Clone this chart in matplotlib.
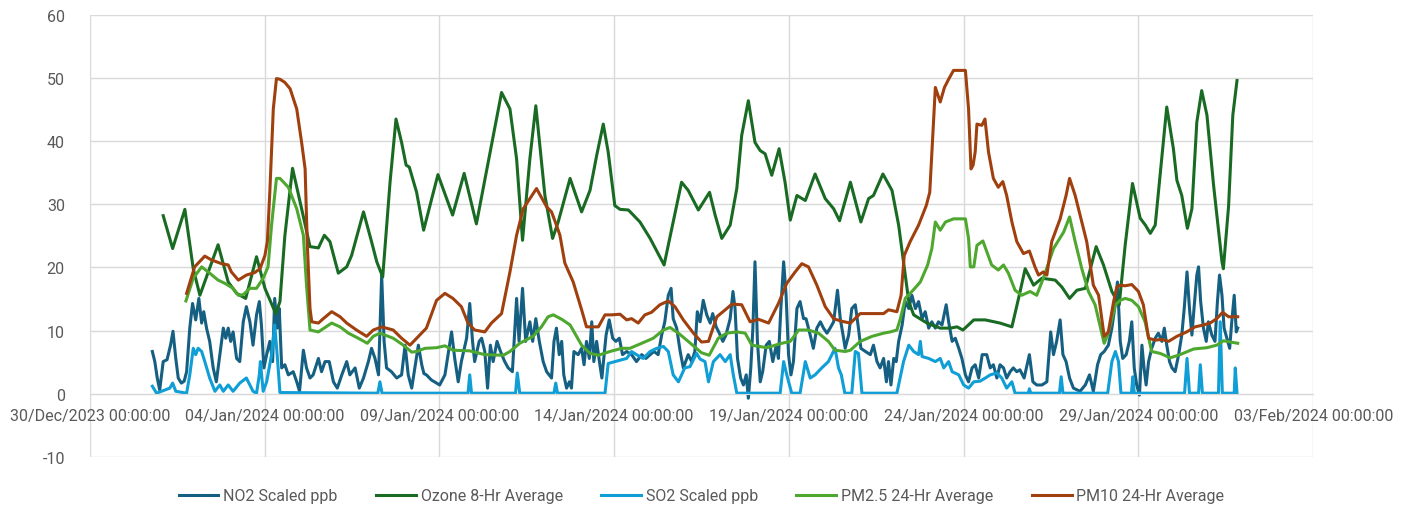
import matplotlib
matplotlib.use("Agg")
import matplotlib.pyplot as plt
import matplotlib.dates as mdates
import pandas as pd

plt.rcParams['font.family'] = ['Roboto', 'DejaVu Sans']
plt.rcParams['axes.unicode_minus'] = False

# time = days since 30/Dec/2023 00:00
no2_t = [1.79, 1.86, 1.93, 2.00, 2.10, 2.21, 2.31, 2.38, 2.46, 2.53, 2.62, 2.70, 2.77, 2.86, 2.94, 3.03, 3.12, 3.20,
         3.26, 3.34, 3.43, 3.53, 3.62, 3.72, 3.82, 3.89, 3.96, 4.03, 4.10, 4.20, 4.29, 4.39, 4.48, 4.58, 4.67, 4.77,
         4.85, 4.91, 4.98, 5.06, 5.15, 5.23, 5.29, 5.36, 5.42, 5.49, 5.58, 5.68, 5.82, 5.92, 6.00, 6.11, 6.20, 6.30,
         6.39, 6.54, 6.63, 6.73, 6.85, 6.97, 7.08, 7.21, 7.35, 7.44, 7.59, 7.71, 7.83, 7.97, 8.06, 8.16, 8.26, 8.35,
         8.42, 8.49, 8.63, 8.78, 8.92, 9.02, 9.11, 9.21, 9.30, 9.40, 9.50, 9.56, 9.63, 9.77, 10.01, 10.16, 10.25,
         10.35, 10.44, 10.54, 10.63, 10.78, 10.87, 10.95, 11.01, 11.14, 11.21, 11.30, 11.38, 11.46, 11.54, 11.65,
         11.75, 11.87, 11.97, 12.09, 12.21, 12.28, 12.38, 12.47, 12.59, 12.67, 12.76, 12.86, 12.97, 13.07, 13.21,
         13.28, 13.35, 13.43, 13.50, 13.56, 13.64, 13.72, 13.78, 13.85, 13.97, 14.07, 14.14, 14.21, 14.29, 14.36,
         14.42, 14.50, 14.58, 14.65, 14.77, 14.86, 14.96, 15.05, 15.15, 15.24, 15.36, 15.50, 15.64, 15.79, 15.91,
         16.03, 16.14, 16.26, 16.36, 16.45, 16.55, 16.63, 16.69, 16.79, 16.89, 16.98, 17.12, 17.22, 17.31, 17.38,
         17.46, 17.55, 17.65, 17.75, 17.82, 17.92, 18.01, 18.11, 18.20, 18.32, 18.40, 18.46, 18.53, 18.62, 18.70,
         18.78, 18.84, 18.91, 18.97, 19.03, 19.10, 19.18, 19.25, 19.35, 19.44, 19.54, 19.64, 19.70, 19.77, 19.85,
         19.92, 19.99, 20.06, 20.13, 20.23, 20.32, 20.42, 20.49, 20.61, 20.70, 20.80, 20.90, 20.99, 21.09, 21.18,
         21.28, 21.39, 21.47, 21.55, 21.61, 21.71, 21.80, 21.90, 21.99, 22.06, 22.19, 22.33, 22.42, 22.52, 22.61,
         22.71, 22.79, 22.85, 22.92, 23.00, 23.07, 23.14, 23.24, 23.33, 23.43, 23.52, 23.62, 23.71, 23.81, 23.90,
         24.00, 24.09, 24.19, 24.28, 24.38, 24.50, 24.57, 24.67, 24.76, 24.86, 24.95, 25.05, 25.14, 25.24, 25.33,
         25.43, 25.53, 25.66, 25.76, 25.85, 25.95, 26.04, 26.14, 26.23, 26.33, 26.42, 26.52, 26.61, 26.73, 26.88,
         26.98, 27.09, 27.24, 27.38, 27.49, 27.57, 27.66, 27.76, 27.84, 27.93, 28.03, 28.14, 28.33, 28.48, 28.60,
         28.71, 28.83, 28.92, 29.02, 29.14, 29.24, 29.32, 29.40, 29.48, 29.55, 29.65, 29.74, 29.81, 29.88, 29.95,
         30.03, 30.10, 30.16, 30.22, 30.29, 30.38, 30.48, 30.57, 30.67, 30.74, 30.81, 30.89, 30.96, 31.05, 31.15,
         31.24, 31.31, 31.39, 31.46, 31.53, 31.59, 31.67, 31.72, 31.78, 31.86, 31.94, 32.00, 32.10, 32.19, 32.26,
         32.32, 32.39, 32.45, 32.53, 32.61, 32.67, 32.74, 32.80, 32.84]
no2_v = [6.7, 5.1, 2.5, 0.6, 5.1, 5.4, 7.7, 9.9, 5.6, 2.5, 1.7, 2.0, 3.5, 10.4, 14.3, 11.7, 15.1, 11.2,
         13.0, 10.4, 8.3, 4.1, 1.9, 6.2, 10.4, 8.8, 10.4, 8.3, 9.8, 5.6, 5.1, 11.4, 13.8, 11.4, 7.7, 12.5,
         14.6, 10.9, 4.1, 6.2, 8.3, 5.1, 15.1, 10.4, 13.5, 4.1, 4.6, 3.0, 3.5, 1.9, 0.4, 6.9, 4.1, 2.5,
         3.0, 5.6, 3.5, 5.1, 5.1, 1.9, 0.9, 3.0, 5.1, 3.0, 4.1, 0.9, 2.5, 5.1, 7.2, 5.6, 3.0, 18.8,
         8.3, 4.1, 3.5, 2.5, 3.0, 7.7, 3.0, 0.9, 4.1, 7.7, 4.5, 3.2, 3.0, 2.2, 1.4, 3.0, 6.2,
         9.8, 5.6, 1.9, 5.1, 8.8, 14.3, 8.3, 5.1, 8.3, 8.8, 6.7, 0.9, 7.7, 5.1, 8.3,
         6.7, 5.1, 4.1, 3.5, 15.1, 8.3, 16.7, 8.3, 11.4, 8.3, 11.9, 8.3, 5.1, 3.5, 2.5,
         8.3, 10.4, 6.2, 8.3, 3.0, 0.9, 1.9, 0.9, 6.7, 6.2, 7.2, 4.6, 8.3, 5.6, 11.4,
         5.1, 8.3, 5.1, 2.5, 9.3, 11.7, 8.8, 8.3, 8.8, 6.2, 6.7, 6.2, 5.1, 6.2, 5.6,
         6.2, 6.7, 6.2, 9.3, 11.4, 15.6, 16.7, 11.9, 10.4, 6.7, 4.1, 6.2, 5.1, 6.7, 13.0,
         11.4, 14.8, 12.5, 11.2, 12.7, 10.6, 9.6, 8.3, 9.3, 11.9, 16.2, 13.5, 5.6, 2.5, 1.4,
         3.0, -0.7, 4.1, 10.4, 20.9, 8.3, 1.9, 3.5, 7.7, 8.3, 5.1, 7.7, 5.6, 13.5, 20.9,
         15.6, 6.2, 3.0, 5.1, 13.5, 14.6, 11.9, 11.9, 9.3, 7.2, 10.4, 11.4, 10.4, 9.6, 10.4,
         11.4, 16.4, 11.9, 9.3, 7.2, 9.3, 13.5, 14.1, 10.4, 7.2, 6.7, 6.2, 7.7, 5.1, 4.1,
         5.6, 1.9, 5.1, 1.4, 5.6, 5.1, 8.3, 10.9, 14.6, 13.5, 15.6, 13.5, 14.6, 11.9, 13.0,
         10.4, 11.4, 10.4, 11.4, 10.9, 14.1, 11.4, 8.3, 8.8, 7.2, 5.6, 3.0, 1.9, 4.1, 4.6,
         2.5, 6.2, 6.2, 4.1, 4.6, 2.5, 4.6, 4.1, 2.5, 3.5, 4.1, 3.5, 3.8, 2.5, 6.2,
         1.9, 1.4, 1.4, 1.9, 9.8, 6.2, 8.3, 11.7, 6.2, 5.1, 2.5, 0.9, 0.4, 1.4, 3.0,
         0.4, 4.6, 6.2, 6.7, 7.7, 10.4, 13.5, 17.7, 8.3, 5.6, 6.2, 8.3, 11.4, 4.1, 1.4,
         -0.2, 7.7, 4.1, 1.4, 5.1, 7.2, 8.8, 9.6, 8.3, 10.4, 7.7, 5.1, 4.1, 3.5, 6.2,
         9.3, 13.5, 19.3, 13.5, 9.3, 13.5, 18.8, 20.1, 14.6, 10.4, 8.3, 11.4, 9.3, 8.3, 14.6,
         18.8, 15.6, 10.4, 8.8, 7.2, 11.4, 15.6, 9.8, 10.4]

ozone_t = [2.10, 2.37, 2.72, 2.96, 3.15, 3.67, 3.96, 4.20, 4.46, 4.77, 5.01, 5.32, 5.44, 5.58, 5.80, 6.06, 6.30,
           6.54, 6.71, 6.87, 7.11, 7.35, 7.49, 7.83, 8.06, 8.21, 8.38, 8.59, 8.76, 8.92, 9.05, 9.14, 9.35, 9.55,
           9.96, 10.38, 10.71, 11.06, 11.40, 11.78, 12.02, 12.21, 12.38, 12.59, 12.76, 13.02, 13.24, 13.40, 13.74,
           14.07, 14.31, 14.50, 14.69, 14.83, 15.02, 15.17, 15.41, 15.74, 16.03, 16.43, 16.69, 16.93, 17.12, 17.41,
           17.73, 17.89, 18.08, 18.32, 18.51, 18.65, 18.84, 19.03, 19.18, 19.32, 19.51, 19.72, 19.89, 20.04, 20.23,
           20.47, 20.75, 21.04, 21.28, 21.45, 21.76, 22.06, 22.28, 22.42, 22.69, 22.95, 23.14, 23.28, 23.43, 23.57,
           23.95, 24.33, 24.62, 24.81, 24.98, 25.29, 25.62, 26.04, 26.38, 26.57, 26.76, 27.00, 27.24, 27.62, 27.81,
           28.03, 28.24, 28.48, 28.79, 29.00, 29.24, 29.45, 29.62, 29.83, 30.05, 30.20, 30.34, 30.48, 30.62, 30.81,
           31.00, 31.10, 31.24, 31.40, 31.53, 31.67, 31.81, 31.96, 32.15, 32.39, 32.43, 32.58, 32.70, 32.82]
ozone_v = [28.2, 23.0, 29.2, 19.8, 15.6, 23.6, 17.7, 15.9, 15.1, 21.7, 16.7, 12.7, 14.6, 25.0, 35.7, 29.3, 23.3,
           23.1, 25.1, 24.1, 19.1, 20.1, 21.9, 28.8, 24.1, 20.9, 18.5, 33.5, 43.5, 39.8, 36.2, 35.9, 31.9, 25.9,
           34.7, 28.3, 34.9, 26.9, 36.7, 47.7, 45.1, 37.2, 24.3, 37.2, 45.6, 31.4, 24.6, 27.2, 34.1,
           28.8, 32.2, 37.7, 42.7, 38.3, 29.8, 29.2, 29.1, 27.2, 24.6, 20.4, 27.2, 33.5, 32.2, 29.1,
           31.9, 28.3, 24.6, 26.7, 32.5, 40.9, 46.4, 39.8, 38.5, 38.0, 34.6, 38.8, 33.5, 27.5, 31.4,
           30.6, 34.8, 30.9, 29.3, 27.4, 33.5, 27.2, 30.9, 31.4, 34.8, 32.2, 26.7, 20.9, 14.6, 12.5,
           11.2, 10.4, 10.4, 10.6, 10.1, 11.7, 11.7, 11.2, 10.6, 15.1, 19.8, 17.2, 18.3, 18.0, 16.9,
           15.1, 16.4, 16.7, 23.3, 20.4, 16.2, 14.1, 23.5, 33.3, 27.8, 26.7, 25.4, 26.7, 34.6, 45.4,
           38.8, 33.8, 31.4, 26.2, 29.3, 43.0, 48.0, 44.1, 33.0, 20.9, 19.8, 29.8, 44.1, 49.6]

so2_t = [1.79, 1.91, 2.29, 2.37, 2.46, 2.77, 2.86, 2.96, 3.03, 3.10, 3.20, 3.29, 3.43, 3.58, 3.72, 3.82, 3.96, 4.10,
         4.29, 4.48, 4.67, 4.77, 4.85, 4.88, 4.96, 5.06, 5.20, 5.29, 5.36, 5.44, 8.24, 8.30, 8.36, 10.82, 10.87,
         10.92, 12.18, 12.23, 12.30, 13.28, 13.33, 13.38, 14.74, 14.83, 15.02, 15.22, 15.36, 15.50, 15.64, 15.83,
         16.03, 16.22, 16.41, 16.55, 16.69, 16.84, 17.02, 17.17, 17.36, 17.46, 17.60, 17.70, 17.84, 18.03, 18.18,
         18.32, 18.41, 18.51, 19.75, 19.85, 19.94, 20.08, 20.32, 20.47, 20.61, 20.75, 20.94, 21.13, 21.32, 21.42,
         21.50, 21.60, 21.80, 21.90, 21.99, 22.09, 23.09, 23.28, 23.43, 23.57, 23.71, 23.76, 23.81, 24.00, 24.19,
         24.33, 24.43, 24.57, 24.67, 24.86, 25.00, 25.14, 25.29, 25.47, 25.62, 25.76, 25.95, 26.09, 26.23, 26.38,
         26.47, 26.85, 26.88, 26.92, 27.74, 27.79, 27.84, 29.12, 29.24, 29.34, 29.43, 29.50, 29.80, 29.84, 29.88,
         31.32, 31.39, 31.46, 31.72, 31.77, 31.83, 32.29, 32.34, 32.40, 32.74, 32.77, 32.82]
so2_v = [1.2, 0.1, 0.9, 1.7, 0.4, 0.1, 3.0, 7.2, 6.2, 7.2, 6.7, 5.1, 2.5, 0.4, 1.4, 0.4, 1.4, 0.4,
         1.7, 2.5, 0.4, 0.1, 3.0, 5.1, 0.4, 1.9, 6.2, 10.9, 6.2, 0.2, 0.1, 1.9, 0.1, 0.1, 3.0,
         0.1, 0.1, 3.3, 0.1, 0.1, 1.7, 0.1, 0.1, 4.8, 5.1, 5.4, 5.6, 6.7, 6.2, 5.6,
         6.7, 7.2, 7.5, 6.7, 3.0, 1.9, 4.1, 4.3, 6.4, 5.5, 5.1, 1.9, 5.1, 6.2, 5.1,
         6.2, 3.0, 0.1, 0.1, 5.1, 3.0, 0.1, 0.1, 5.1, 2.5, 3.0, 4.1, 5.1, 7.2, 4.1,
         3.0, 0.1, 0.1, 6.7, 6.4, 0.1, 0.1, 5.1, 7.7, 6.7, 6.2, 8.3, 5.9, 5.6, 5.1,
         5.6, 4.1, 5.1, 3.5, 3.0, 1.4, 0.9, 1.9, 2.0, 2.5, 3.0, 3.3, 2.5, 0.9, 1.9,
         0.1, 0.1, 0.8, 0.1, 0.1, 2.7, 0.1, 0.1, 5.1, 6.7, 5.1, 0.1, 0.1, 2.7, 0.1,
         0.1, 5.6, 0.1, 0.1, 4.6, 0.1, 0.1, 11.4, 0.1, 0.1, 4.1, 0.1]

pm25_t = [2.75, 2.96, 3.20, 3.43, 3.67, 3.86, 4.10, 4.25, 4.39, 4.58, 4.77, 4.96, 5.10, 5.20, 5.34, 5.44, 5.68, 5.92,
          6.11, 6.20, 6.30, 6.54, 6.73, 6.92, 7.16, 7.40, 7.68, 7.94, 8.11, 8.30, 8.68, 8.97, 9.21, 9.35, 9.59, 9.92,
          10.16, 10.39, 10.87, 11.30, 11.83, 12.02, 12.30, 12.68, 12.92, 13.11, 13.26, 13.50, 13.74, 14.07, 14.31,
          14.55, 14.88, 15.22, 15.45, 15.79, 16.12, 16.41, 16.60, 16.84, 17.12, 17.50, 17.72, 17.98, 18.22, 18.51,
          18.75, 18.94, 19.37, 19.80, 20.04, 20.28, 20.56, 20.85, 21.13, 21.32, 21.61, 21.76, 22.04, 22.38, 22.71,
          22.90, 23.09, 23.19, 23.33, 23.52, 23.76, 23.97, 24.09, 24.19, 24.33, 24.48, 24.71, 25.05, 25.14, 25.19,
          25.29, 25.38, 25.55, 25.80, 25.99, 26.14, 26.28, 26.47, 26.66, 26.90, 27.09, 27.28, 27.57, 27.86, 28.03,
          28.19, 28.38, 28.57, 28.76, 28.91, 29.02, 29.14, 29.34, 29.48, 29.62, 29.81, 30.00, 30.19, 30.38, 30.62,
          30.91, 31.19, 31.58, 31.96, 32.24, 32.43, 32.84]
pm25_v = [14.7, 18.3, 20.1, 19.1, 18.0, 17.5, 16.7, 15.6, 15.7, 16.7, 16.7, 18.3, 20.1, 26.7, 34.1, 34.1, 32.7, 29.3,
          25.1, 17.2, 10.1, 9.8, 10.5, 11.2, 10.6, 9.6, 8.8, 8.0, 9.1, 9.6, 8.8, 7.7, 6.6, 6.7, 7.2, 7.3,
          7.6, 6.9, 6.8, 6.2, 6.1, 6.7, 8.0, 9.1, 10.6, 12.2, 12.5, 11.8, 10.9, 7.7, 6.4,
          6.1, 6.7, 7.2, 7.2, 8.0, 8.8, 10.1, 10.5, 9.6, 8.3, 6.5, 6.1, 8.8, 9.6, 9.8,
          9.6, 7.7, 7.3, 8.0, 8.3, 10.1, 10.1, 9.6, 8.3, 6.9, 6.7, 6.9, 8.3, 9.1, 9.6,
          9.8, 10.1, 11.9, 15.1, 16.2, 17.7, 20.4, 23.0, 27.2, 25.9, 27.2, 27.7, 27.7, 24.6, 20.1,
          20.1, 23.5, 24.2, 20.4, 19.6, 20.4, 19.1, 16.4, 15.6, 16.2, 15.6, 18.3, 23.0, 25.6, 28.0,
          24.1, 19.8, 16.2, 14.1, 10.6, 8.0, 9.6, 14.1, 14.8, 15.1, 14.8, 13.8, 11.4, 6.7, 6.4,
          5.7, 6.2, 7.1, 7.3, 7.7, 8.4, 8.0]

pm10_t = [2.77, 3.00, 3.29, 3.48, 3.77, 3.96, 4.05, 4.25, 4.48, 4.72, 4.87, 5.01, 5.08, 5.15, 5.25, 5.34, 5.44, 5.58,
          5.73, 5.92, 6.06, 6.16, 6.22, 6.30, 6.35, 6.54, 6.68, 6.92, 7.16, 7.35, 7.63, 7.92, 8.11, 8.35, 8.68, 8.92,
          9.16, 9.35, 9.63, 9.77, 9.92, 10.16, 10.39, 10.63, 10.82, 11.01, 11.30, 11.49, 11.78, 12.02, 12.21, 12.40,
          12.59, 12.78, 13.07, 13.21, 13.35, 13.45, 13.59, 13.83, 14.07, 14.21, 14.40, 14.55, 14.74, 14.93, 15.17,
          15.36, 15.50, 15.69, 15.88, 16.07, 16.31, 16.55, 16.74, 16.98, 17.27, 17.50, 17.70, 17.94, 18.18, 18.37,
          18.65, 18.89, 19.13, 19.42, 19.70, 19.94, 20.18, 20.37, 20.56, 20.80, 21.04, 21.28, 21.50, 21.76, 22.04,
          22.38, 22.71, 22.85, 23.09, 23.21, 23.30, 23.47, 23.71, 23.93, 24.03, 24.19, 24.33, 24.45, 24.57, 24.71,
          25.05, 25.14, 25.21, 25.27, 25.33, 25.38, 25.52, 25.61, 25.71, 25.85, 25.99, 26.12, 26.23, 26.38, 26.52,
          26.71, 26.88, 27.04, 27.14, 27.28, 27.38, 27.52, 27.76, 27.93, 28.03, 28.19, 28.33, 28.52, 28.71, 28.86,
          29.02, 29.14, 29.29, 29.38, 29.48, 29.62, 29.81, 30.00, 30.14, 30.29, 30.48, 30.67, 30.86, 31.10, 31.38,
          31.62, 31.86, 32.05, 32.24, 32.41, 32.58, 32.84]
pm10_v = [15.9, 20.1, 21.8, 21.2, 20.6, 20.4, 19.3, 18.0, 18.8, 19.2, 19.8, 21.9, 24.1, 31.9, 45.1, 49.9, 49.8, 49.3,
          48.3, 45.1, 39.8, 35.6, 24.1, 13.5, 11.4, 11.2, 11.9, 13.0, 12.2, 11.2, 10.1, 9.1, 10.1, 10.6, 10.1, 8.8,
          7.7, 8.8, 10.4, 12.5, 14.8, 15.9, 15.1, 13.8, 11.2, 10.1, 9.8, 11.2, 12.7, 19.3, 25.1, 29.3,
          30.9, 32.5, 29.6, 28.8, 26.7, 25.1, 20.7, 17.7, 13.3, 10.6, 10.6, 10.6, 12.5, 12.5, 12.6,
          11.7, 11.9, 11.2, 12.5, 12.9, 14.1, 14.7, 13.8, 11.7, 9.6, 8.2, 8.3, 12.2, 13.3, 14.2,
          14.1, 11.4, 11.8, 11.2, 14.3, 17.5, 19.3, 20.6, 20.1, 17.2, 13.8, 11.9, 11.5, 11.2, 12.7,
          12.7, 12.7, 13.3, 13.0, 15.6, 21.9, 24.1, 26.7, 29.8, 31.9, 48.5, 46.2, 48.5, 49.8, 51.2,
          51.2, 45.1, 35.6, 36.2, 38.3, 42.7, 42.5, 43.5, 38.3, 34.1, 32.7, 33.6, 31.4, 27.2, 24.1,
          22.2, 22.6, 20.1, 18.8, 19.3, 18.8, 24.1, 27.7, 31.4, 34.1, 31.4, 28.3, 24.1, 17.2, 15.6,
          9.1, 9.8, 14.6, 16.9, 17.2, 17.1, 17.3, 16.2, 14.1, 8.8, 8.5, 8.6, 8.3, 9.1, 9.8,
          10.6, 10.9, 11.2, 11.9, 12.9, 12.2, 12.2]

start = pd.Timestamp("2023-12-30")


def to_dates(days):
    return start + pd.to_timedelta(days, unit="D")


fig = plt.figure(figsize=(14.03, 5.10), dpi=100)
ax = fig.add_axes([0.064, 0.102, 0.872, 0.867])

lw = 2.2
ax.plot(to_dates(no2_t), no2_v, color="#156082", lw=lw, label="NO2 Scaled ppb")
ax.plot(to_dates(ozone_t), ozone_v, color="#196B24", lw=lw, label="Ozone 8-Hr Average")
ax.plot(to_dates(so2_t), so2_v, color="#0F9ED5", lw=lw, label="SO2 Scaled ppb")
ax.plot(to_dates(pm25_t), pm25_v, color="#4EA72E", lw=lw, label="PM2.5 24-Hr Average")
ax.plot(to_dates(pm10_t), pm10_v, color="#A0400F", lw=lw, label="PM10 24-Hr Average")

ax.set_xlim(start, pd.Timestamp("2024-02-03"))
ax.set_ylim(-10, 60)
ax.set_yticks(range(-10, 61, 10))
ax.set_xticks(pd.date_range(start, "2024-02-03", freq="5D"))
ax.xaxis.set_major_formatter(mdates.DateFormatter("%d/%b/%Y %H:%M:%S"))

ax.grid(True, color="#D9D9D9", lw=1.0)
ax.set_axisbelow(True)
for s in ["top", "right", "left"]:
    ax.spines[s].set_visible(False)
ax.spines["bottom"].set_position(("data", 0))
ax.spines["bottom"].set_color("#D9D9D9")
ax.tick_params(axis="both", length=0, colors="#595959", labelsize=11.5)
ax.tick_params(axis="y", pad=18)
ax.tick_params(axis="x", pad=10)

fig.legend(loc="center", bbox_to_anchor=(0.5, 1 - 497 / 510), ncol=5, frameon=False, fontsize=11.5,
           handlelength=2.5, columnspacing=2.4, handletextpad=0.3, labelcolor="#595959")

fig.savefig("out.png", dpi=100)
